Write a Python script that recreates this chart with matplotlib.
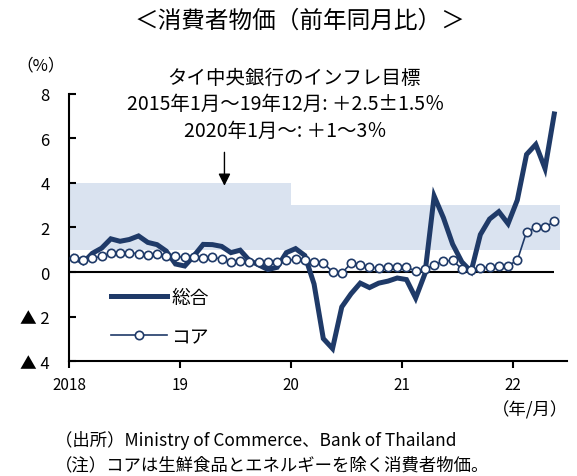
import numpy as np
import matplotlib.pyplot as plt

plt.rcParams["font.family"] = ["Noto Sans CJK JP", "DejaVu Sans"]
plt.rcParams["font.size"] = 11

# Thai CPI, y/y %, Jan 2018 - May 2022
headline = [
    0.68, 0.42, 0.84, 1.07, 1.49, 1.38, 1.46, 1.62, 1.33, 1.23, 0.94, 0.36,
    0.27, 0.73, 1.24, 1.23, 1.15, 0.87, 0.98, 0.52, 0.32, 0.11, 0.21, 0.87,
    1.05, 0.74, -0.54, -2.99, -3.44, -1.57, -0.98, -0.50, -0.70, -0.50, -0.41, -0.27,
    -0.34, -1.17, -0.08, 3.41, 2.44, 1.25, 0.45, 0.02, 1.68, 2.38, 2.71, 2.17,
    3.23, 5.28, 5.73, 4.65, 7.10,
]
core = [
    0.62, 0.56, 0.61, 0.71, 0.84, 0.84, 0.85, 0.83, 0.77, 0.79, 0.74, 0.70,
    0.66, 0.67, 0.63, 0.66, 0.58, 0.47, 0.51, 0.45, 0.44, 0.44, 0.46, 0.52,
    0.57, 0.54, 0.47, 0.41, 0.01, -0.05, 0.39, 0.30, 0.22, 0.18, 0.22, 0.21,
    0.21, 0.05, 0.13, 0.32, 0.49, 0.52, 0.14, 0.07, 0.19, 0.21, 0.29, 0.29,
    0.52, 1.80, 2.00, 2.00, 2.28,
]
year_labels = ["2018", "19", "20", "21", "22"]
target_old = (1.0, 4.0)   # 2015/1 - 2019/12
target_new = (1.0, 3.0)   # 2020/1 -
ytick_vals = [8, 6, 4, 2, 0, -2, -4]
ytick_labels = ["8", "6", "4", "2", "0", "▲ 2", "▲ 4"]

navy = "#1f3a68"
band = "#dae3f0"

fig = plt.figure(figsize=(5.77, 4.77), dpi=100)
ax = fig.add_axes([0.12, 0.241, 0.863, 0.56])

x = np.arange(len(headline))
ax.fill_between([-0.5, 23.5], *target_old, color=band, lw=0, zorder=0)
ax.fill_between([23.5, 52.6], *target_new, color=band, lw=0, zorder=0)
ax.hlines(0, -0.5, x[-1], color="black", lw=1.5, zorder=1)

ax.plot(x, headline, color=navy, lw=3.6, solid_joinstyle="miter", label="総合", zorder=3)
ax.plot(x, core, color=navy, lw=1.2, marker="o", ms=6, mfc="white", mec=navy,
        mew=1.2, label="コア", zorder=4)

ax.set_xlim(-0.5, 53.4)
ax.set_ylim(-4, 8)
ax.set_xticks(np.arange(len(year_labels)) * 12 - 0.5)
ax.set_xticklabels(year_labels)
ax.set_yticks(ytick_vals)
ax.set_yticklabels(ytick_labels, fontsize=12)
ax.tick_params(axis="y", direction="in", length=5, width=1.5, pad=14)
ax.tick_params(axis="x", direction="out", length=5, width=1.5, pad=6)
for s in ["top", "right"]:
    ax.spines[s].set_visible(False)
for s in ["left", "bottom"]:
    ax.spines[s].set_linewidth(1.5)

ax.legend(loc="lower left", bbox_to_anchor=(0.05, -0.01), frameon=False,
          fontsize=13.5, handlelength=3.0, labelspacing=0.95, handletextpad=0.2)

ax.annotate("", xy=(16.3, 3.75), xytext=(16.3, 5.5),
            arrowprops=dict(arrowstyle="-|>", color="black", lw=1, mutation_scale=18))

fig.text(0.52, 0.955, "＜消費者物価（前年同月比）＞", ha="center", va="center", fontsize=17)
fig.text(0.07, 0.862, "（%）", ha="center", va="center", fontsize=12)
fig.text(0.51, 0.836, "タイ中央銀行のインフレ目標", ha="center", va="center", fontsize=14)
fig.text(0.495, 0.782, "2015年1月～19年12月: ＋2.5±1.5％", ha="center", va="center", fontsize=14)
fig.text(0.495, 0.724, "2020年1月～: ＋1～3％", ha="center", va="center", fontsize=14)
fig.text(0.985, 0.14, "（年/月）", ha="right", va="center", fontsize=12.5)
fig.text(0.095, 0.077, "（出所）Ministry of Commerce、Bank of Thailand", ha="left", va="center", fontsize=12.5)
fig.text(0.095, 0.025, "（注）コアは生鮮食品とエネルギーを除く消費者物価。", ha="left", va="center", fontsize=12.5)

fig.savefig("out.png", dpi=100)
